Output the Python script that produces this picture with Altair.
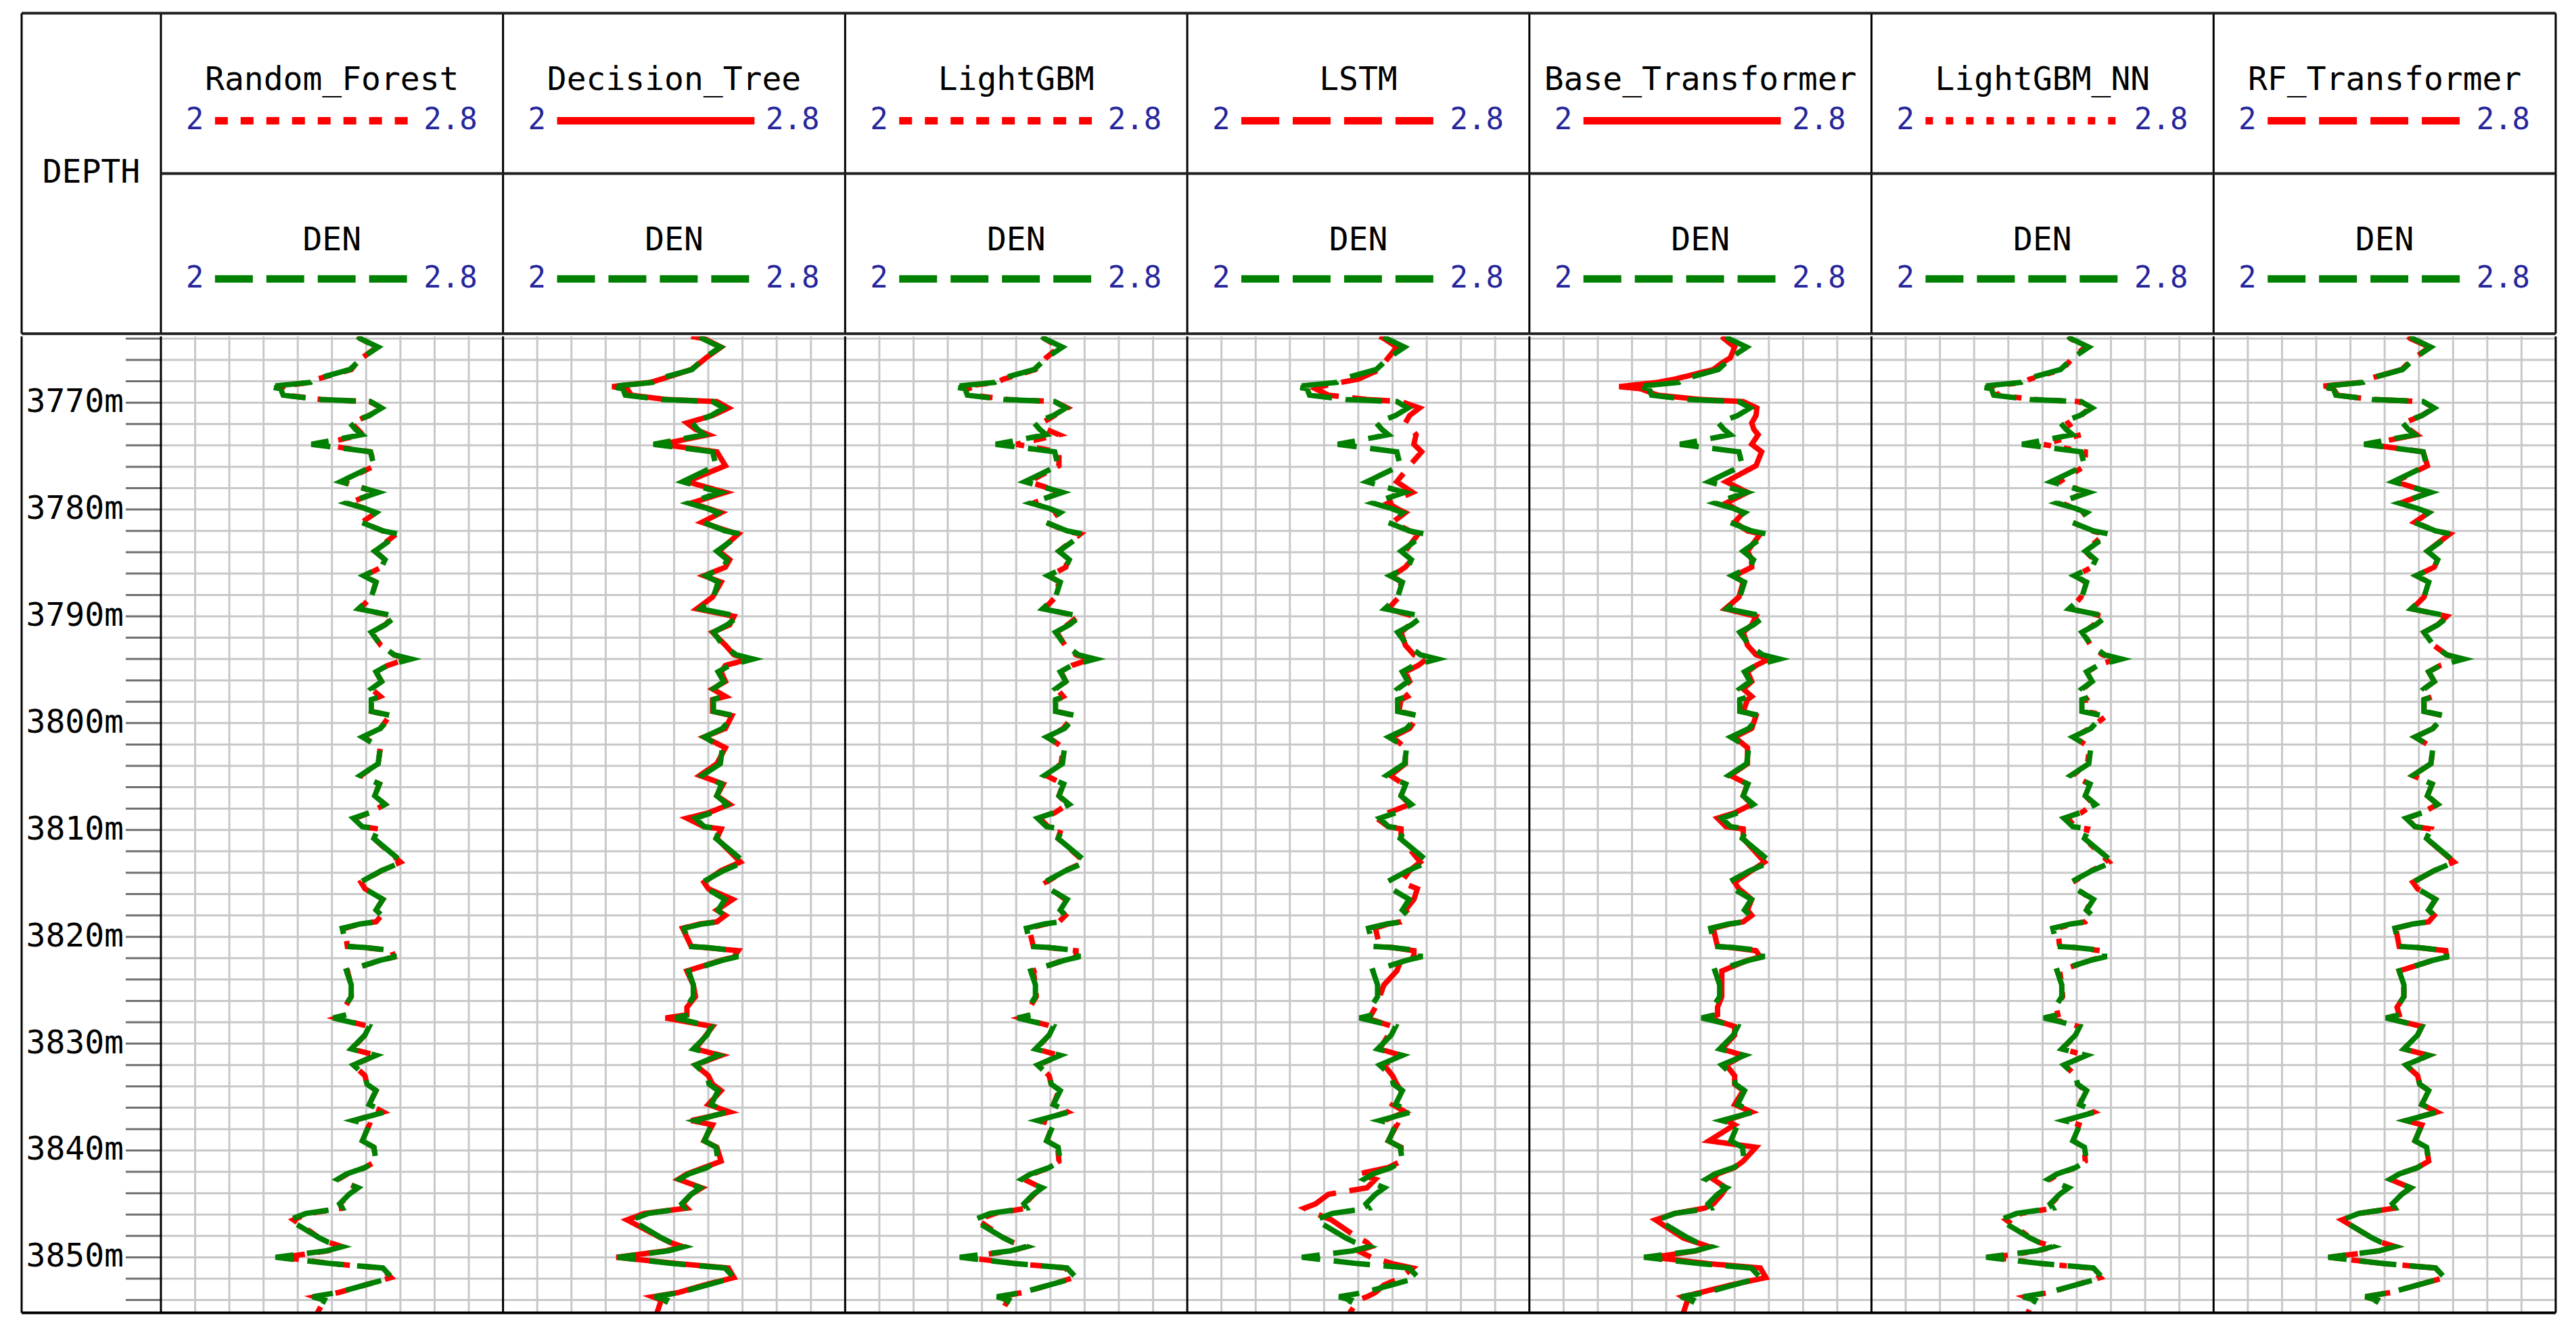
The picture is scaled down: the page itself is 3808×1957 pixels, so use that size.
import altair as alt
import pandas as pd

# ---------------- data ----------------
MODELS = ["Random_Forest", "Decision_Tree", "LightGBM", "LSTM",
          "Base_Transformer", "LightGBM_NN", "RF_Transformer"]
MODEL_DASH = [[19, 19], [1, 0], [19, 19], [56, 20], [1, 0], [11, 19], [56, 20]]
CURVE = "DEN"
SCALE_MIN = 2
SCALE_MAX = 2.8
SCALE_LABELS = ["2", "2.8"]
DEPTH_TITLE = "DEPTH"

DEPTH = [
    3763.8, 3764.0, 3764.8, 3765.8, 3766.3, 3766.9, 3767.8, 3768.1, 3768.5, 3768.7,
    3769.3, 3769.7, 3769.9, 3770.5, 3771.2, 3771.9, 3772.5, 3773.0, 3773.9, 3774.6,
    3775.9, 3777.4, 3778.4, 3779.4, 3779.9, 3780.3, 3781.2, 3782.0, 3782.3, 3783.9,
    3784.7, 3785.4, 3786.2, 3786.8, 3788.2, 3789.3, 3790.0, 3790.8, 3791.5, 3792.7,
    3793.6, 3794.0, 3794.6, 3795.2, 3796.1, 3796.8, 3797.5, 3797.8, 3798.9, 3799.3,
    3800.5, 3801.3, 3802.3, 3803.8, 3804.9, 3805.7, 3806.8, 3807.6, 3808.4, 3808.9,
    3809.7, 3809.9, 3810.8, 3813.0, 3813.8, 3814.9, 3815.5, 3816.5, 3817.5, 3818.0,
    3818.6, 3818.8, 3819.2, 3820.9, 3821.0, 3821.3, 3821.9, 3822.2, 3823.2, 3824.5,
    3825.6, 3826.6, 3827.3, 3827.6, 3828.4, 3829.2, 3830.5, 3831.1, 3832.0, 3833.0,
    3833.8, 3834.4, 3835.7, 3836.4, 3837.2, 3837.6, 3839.1, 3839.7, 3841.0, 3841.6,
    3842.2, 3842.7, 3843.5, 3844.1, 3845.0, 3845.4, 3845.9, 3846.5, 3848.2, 3848.6,
    3849.0, 3849.4, 3850.0, 3850.6, 3851.0, 3851.9, 3852.6, 3853.3, 3853.7, 3854.0,
    3855.2]

DEN = [
    2.46, 2.466, 2.508, 2.471, 2.458, 2.442, 2.36, 2.35, 2.25, 2.28,
    2.286, 2.371, 2.49, 2.516, 2.487, 2.442, 2.455, 2.47, 2.352, 2.49,
    2.498, 2.42, 2.508, 2.434, 2.477, 2.503, 2.469, 2.519, 2.556, 2.50,
    2.524, 2.516, 2.474, 2.503, 2.492, 2.462, 2.55, 2.524, 2.492, 2.514,
    2.545, 2.585, 2.53, 2.503, 2.516, 2.492, 2.513, 2.492, 2.492, 2.54,
    2.513, 2.471, 2.513, 2.508, 2.466, 2.511, 2.50, 2.524, 2.487, 2.45,
    2.471, 2.508, 2.498, 2.564, 2.516, 2.466, 2.477, 2.519, 2.503, 2.516,
    2.503, 2.466, 2.424, 2.434, 2.477, 2.545, 2.545, 2.513, 2.434, 2.445,
    2.445, 2.429, 2.434, 2.403, 2.487, 2.477, 2.445, 2.503, 2.45, 2.477,
    2.482, 2.503, 2.487, 2.524, 2.45, 2.487, 2.471, 2.498, 2.503, 2.477,
    2.434, 2.413, 2.461, 2.44, 2.418, 2.424, 2.339, 2.30, 2.371, 2.392,
    2.424, 2.387, 2.268, 2.40, 2.519, 2.54, 2.477, 2.413, 2.355, 2.382,
    2.366]

RANDOM_FOREST = [
    2.46, 2.466, 2.505, 2.471, 2.458, 2.445, 2.365, 2.35, 2.27, 2.285,
    2.29, 2.375, 2.488, 2.516, 2.487, 2.445, 2.46, 2.472, 2.37, 2.49,
    2.50, 2.425, 2.505, 2.44, 2.477, 2.503, 2.47, 2.519, 2.55, 2.50,
    2.524, 2.516, 2.476, 2.503, 2.492, 2.465, 2.545, 2.524, 2.492, 2.514,
    2.545, 2.575, 2.53, 2.503, 2.516, 2.492, 2.513, 2.495, 2.492, 2.535,
    2.513, 2.474, 2.513, 2.508, 2.468, 2.511, 2.50, 2.524, 2.487, 2.455,
    2.471, 2.508, 2.498, 2.56, 2.516, 2.468, 2.477, 2.519, 2.503, 2.516,
    2.503, 2.466, 2.43, 2.436, 2.477, 2.54, 2.545, 2.513, 2.436, 2.445,
    2.445, 2.43, 2.434, 2.41, 2.487, 2.477, 2.447, 2.503, 2.45, 2.477,
    2.482, 2.503, 2.487, 2.52, 2.452, 2.487, 2.471, 2.498, 2.503, 2.477,
    2.436, 2.415, 2.46, 2.44, 2.42, 2.424, 2.345, 2.31, 2.371, 2.392,
    2.424, 2.39, 2.285, 2.40, 2.515, 2.538, 2.477, 2.415, 2.36, 2.382,
    2.366]

DECISION_TREE = [
    2.44, 2.47, 2.51, 2.475, 2.46, 2.44, 2.37, 2.345, 2.255, 2.29,
    2.30, 2.38, 2.50, 2.527, 2.49, 2.43, 2.45, 2.48, 2.37, 2.50,
    2.52, 2.43, 2.52, 2.44, 2.48, 2.51, 2.465, 2.525, 2.55, 2.505,
    2.53, 2.52, 2.47, 2.51, 2.49, 2.453, 2.54, 2.53, 2.49, 2.52,
    2.54, 2.575, 2.52, 2.51, 2.52, 2.49, 2.52, 2.49, 2.49, 2.535,
    2.52, 2.47, 2.52, 2.50, 2.46, 2.515, 2.50, 2.53, 2.48, 2.43,
    2.47, 2.51, 2.50, 2.555, 2.51, 2.47, 2.48, 2.537, 2.50, 2.52,
    2.50, 2.46, 2.42, 2.44, 2.47, 2.55, 2.54, 2.51, 2.43, 2.445,
    2.45, 2.43, 2.43, 2.38, 2.49, 2.475, 2.45, 2.51, 2.45, 2.48,
    2.49, 2.51, 2.48, 2.53, 2.44, 2.49, 2.47, 2.50, 2.51, 2.47,
    2.43, 2.41, 2.465, 2.44, 2.42, 2.43, 2.33, 2.29, 2.37, 2.39,
    2.42, 2.38, 2.265, 2.41, 2.527, 2.54, 2.47, 2.41, 2.35, 2.37,
    2.36]

LIGHTGBM = [
    2.46, 2.466, 2.50, 2.47, 2.46, 2.445, 2.37, 2.355, 2.27, 2.29,
    2.295, 2.38, 2.49, 2.52, 2.49, 2.46, 2.47, 2.50, 2.40, 2.50,
    2.50, 2.43, 2.505, 2.44, 2.475, 2.50, 2.47, 2.515, 2.55, 2.50,
    2.52, 2.516, 2.478, 2.50, 2.492, 2.466, 2.545, 2.52, 2.495, 2.514,
    2.54, 2.575, 2.53, 2.505, 2.516, 2.495, 2.51, 2.495, 2.495, 2.535,
    2.51, 2.475, 2.51, 2.505, 2.47, 2.51, 2.50, 2.52, 2.49, 2.455,
    2.475, 2.505, 2.498, 2.56, 2.515, 2.47, 2.48, 2.515, 2.503, 2.515,
    2.50, 2.47, 2.43, 2.44, 2.475, 2.54, 2.54, 2.51, 2.44, 2.445,
    2.447, 2.432, 2.436, 2.41, 2.485, 2.477, 2.447, 2.50, 2.452, 2.477,
    2.482, 2.50, 2.487, 2.52, 2.455, 2.485, 2.472, 2.497, 2.50, 2.478,
    2.438, 2.418, 2.46, 2.442, 2.42, 2.425, 2.35, 2.31, 2.372, 2.392,
    2.424, 2.39, 2.28, 2.40, 2.515, 2.535, 2.477, 2.415, 2.36, 2.38,
    2.366]

LSTM = [
    2.45, 2.46, 2.49, 2.47, 2.46, 2.45, 2.40, 2.36, 2.31, 2.30,
    2.33, 2.42, 2.50, 2.543, 2.52, 2.51, 2.525, 2.535, 2.53, 2.548,
    2.52, 2.49, 2.527, 2.47, 2.49, 2.51, 2.48, 2.52, 2.54, 2.51,
    2.525, 2.51, 2.48, 2.50, 2.495, 2.47, 2.53, 2.52, 2.50, 2.51,
    2.53, 2.56, 2.54, 2.51, 2.52, 2.50, 2.515, 2.50, 2.495, 2.54,
    2.52, 2.48, 2.51, 2.51, 2.475, 2.505, 2.50, 2.52, 2.47, 2.443,
    2.47, 2.50, 2.50, 2.545, 2.52, 2.50, 2.538, 2.53, 2.51, 2.52,
    2.50, 2.47, 2.44, 2.45, 2.48, 2.53, 2.53, 2.50, 2.49, 2.46,
    2.45, 2.44, 2.43, 2.42, 2.48, 2.47, 2.45, 2.50, 2.46, 2.48,
    2.49, 2.50, 2.48, 2.51, 2.46, 2.49, 2.47, 2.50, 2.50, 2.47,
    2.40, 2.44, 2.42, 2.33, 2.30, 2.274, 2.30, 2.337, 2.40, 2.42,
    2.43, 2.40, 2.43, 2.48, 2.527, 2.50, 2.46, 2.44, 2.42, 2.40,
    2.38]

BASE_TRANSFORMER = [
    2.45, 2.455, 2.48, 2.47, 2.45, 2.43, 2.34, 2.30, 2.21, 2.26,
    2.30, 2.40, 2.50, 2.532, 2.53, 2.52, 2.525, 2.535, 2.52, 2.543,
    2.53, 2.46, 2.51, 2.46, 2.48, 2.50, 2.48, 2.51, 2.54, 2.51,
    2.52, 2.52, 2.48, 2.50, 2.49, 2.458, 2.53, 2.52, 2.50, 2.51,
    2.53, 2.56, 2.53, 2.51, 2.52, 2.50, 2.52, 2.51, 2.50, 2.53,
    2.52, 2.48, 2.51, 2.51, 2.47, 2.51, 2.50, 2.52, 2.48, 2.44,
    2.46, 2.50, 2.50, 2.55, 2.52, 2.48, 2.49, 2.52, 2.51, 2.52,
    2.50, 2.47, 2.43, 2.44, 2.47, 2.53, 2.54, 2.51, 2.45, 2.45,
    2.45, 2.44, 2.44, 2.42, 2.48, 2.48, 2.45, 2.50, 2.46, 2.48,
    2.48, 2.50, 2.48, 2.52, 2.46, 2.48, 2.42, 2.53, 2.50, 2.48,
    2.44, 2.43, 2.46, 2.45, 2.43, 2.41, 2.34, 2.295, 2.36, 2.39,
    2.42, 2.39, 2.29, 2.42, 2.54, 2.553, 2.47, 2.40, 2.358, 2.37,
    2.36]

LIGHTGBM_NN = [
    2.46, 2.465, 2.50, 2.47, 2.46, 2.445, 2.37, 2.355, 2.27, 2.29,
    2.295, 2.38, 2.485, 2.51, 2.49, 2.46, 2.47, 2.49, 2.40, 2.50,
    2.50, 2.44, 2.50, 2.445, 2.475, 2.50, 2.47, 2.515, 2.545, 2.50,
    2.52, 2.515, 2.478, 2.50, 2.49, 2.466, 2.54, 2.52, 2.495, 2.512,
    2.54, 2.57, 2.53, 2.505, 2.515, 2.495, 2.51, 2.50, 2.50, 2.55,
    2.51, 2.475, 2.51, 2.505, 2.47, 2.51, 2.50, 2.52, 2.49, 2.46,
    2.475, 2.505, 2.498, 2.555, 2.515, 2.47, 2.48, 2.515, 2.503, 2.515,
    2.50, 2.47, 2.435, 2.44, 2.475, 2.535, 2.54, 2.51, 2.44, 2.445,
    2.447, 2.432, 2.436, 2.415, 2.485, 2.477, 2.447, 2.50, 2.452, 2.477,
    2.482, 2.50, 2.487, 2.52, 2.455, 2.485, 2.472, 2.497, 2.50, 2.478,
    2.438, 2.418, 2.46, 2.442, 2.42, 2.425, 2.35, 2.315, 2.372, 2.392,
    2.424, 2.39, 2.285, 2.40, 2.51, 2.535, 2.477, 2.415, 2.36, 2.38,
    2.366]

RF_TRANSFORMER = [
    2.455, 2.46, 2.505, 2.47, 2.455, 2.44, 2.36, 2.345, 2.245, 2.28,
    2.29, 2.37, 2.49, 2.515, 2.487, 2.445, 2.458, 2.475, 2.36, 2.49,
    2.50, 2.425, 2.505, 2.437, 2.477, 2.503, 2.47, 2.52, 2.552, 2.50,
    2.524, 2.516, 2.474, 2.503, 2.492, 2.464, 2.545, 2.524, 2.492, 2.514,
    2.545, 2.58, 2.53, 2.503, 2.516, 2.492, 2.513, 2.492, 2.492, 2.537,
    2.513, 2.471, 2.513, 2.508, 2.466, 2.511, 2.50, 2.524, 2.487, 2.452,
    2.471, 2.508, 2.498, 2.562, 2.516, 2.466, 2.477, 2.519, 2.503, 2.516,
    2.503, 2.466, 2.426, 2.434, 2.477, 2.543, 2.545, 2.513, 2.434, 2.445,
    2.445, 2.429, 2.434, 2.405, 2.487, 2.477, 2.445, 2.503, 2.45, 2.477,
    2.482, 2.503, 2.487, 2.522, 2.45, 2.487, 2.471, 2.498, 2.503, 2.477,
    2.434, 2.413, 2.461, 2.44, 2.418, 2.424, 2.34, 2.30, 2.371, 2.392,
    2.424, 2.387, 2.27, 2.40, 2.519, 2.54, 2.477, 2.413, 2.355, 2.382,
    2.366]

PREDICTIONS = [RANDOM_FOREST, DECISION_TREE, LIGHTGBM, LSTM,
               BASE_TRANSFORMER, LIGHTGBM_NN, RF_TRANSFORMER]

D_TOP, D_BOT = 3763.8, 3855.2
GRID_DEPTHS = list(range(3764, 3856, 2))
LABEL_DEPTHS = list(range(3770, 3851, 10))

for p in PREDICTIONS:
    assert len(p) == len(DEPTH), len(p)
assert len(DEN) == len(DEPTH)

# ---------------- layout ----------------
FONT = "DejaVu Sans Mono"
BLUE = "#26269c"
RED = "#ff0000"
GREEN = "#008000"
GRID = "#c8c8c8"

N = len(MODELS)
TRACK_W = 506
DEPTH_W = 206
W = DEPTH_W + N * TRACK_W
XL = -DEPTH_W / TRACK_W
HEAD_H = 474
BODY_H = 1444
SPAN = SCALE_MAX - SCALE_MIN

xs = alt.Scale(domain=[XL, N], nice=False, zero=False)
ys = alt.Scale(domain=[D_TOP, D_BOT], reverse=True, nice=False, zero=False)
hy = alt.Scale(domain=[0, 2], reverse=True, nice=False, zero=False)


def X(f):
    return alt.X(f, scale=xs, axis=None)


# ---------- body ----------
red_rows = []
for t, (m, vals) in enumerate(zip(MODELS, PREDICTIONS)):
    for d, v in zip(DEPTH, vals):
        red_rows.append({"model": m, "track": t, "depth": d, "value": v})
red_df = pd.DataFrame(red_rows)

den_rows = []
for t in range(N):
    for d, v in zip(DEPTH, DEN):
        den_rows.append({"track": t, "depth": d, "value": v})
den_df = pd.DataFrame(den_rows)

calc = f"datum.track + (datum.value - {SCALE_MIN}) / {SPAN}"

vgrid_df = pd.DataFrame({"x": [t + k / 10 for t in range(N) for k in range(1, 10)]})
vgrid = alt.Chart(vgrid_df).mark_rule(color=GRID, strokeWidth=3).encode(x=X("x:Q"))

hgrid_df = pd.DataFrame({"d": GRID_DEPTHS, "x0": 0.0, "x1": float(N)})
hgrid = alt.Chart(hgrid_df).mark_rule(color=GRID, strokeWidth=3).encode(
    y=alt.Y("d:Q", scale=ys, axis=None), x=X("x0:Q"), x2="x1:Q")

tick_df = pd.DataFrame({"d": GRID_DEPTHS, "x0": -52 / TRACK_W, "x1": 0.0})
ticks = alt.Chart(tick_df).mark_rule(color="#707070", strokeWidth=3).encode(
    y=alt.Y("d:Q", scale=ys, axis=None), x=X("x0:Q"), x2="x1:Q")

lab_df = pd.DataFrame({"d": LABEL_DEPTHS, "x": -55 / TRACK_W,
                       "label": [f"{d}m" for d in LABEL_DEPTHS]})
labels = alt.Chart(lab_df).mark_text(
    align="right", baseline="middle", font=FONT, fontSize=48, color="black"
).encode(y=alt.Y("d:Q", scale=ys, axis=None), x=X("x:Q"), text="label:N")

red = alt.Chart(red_df).transform_calculate(xpos=calc).mark_line(
    color=RED, strokeWidth=8, clip=True
).encode(
    x=X("xpos:Q"),
    y=alt.Y("depth:Q", scale=ys, axis=None),
    order=alt.Order("depth:Q"),
    detail="model:N",
    strokeDash=alt.StrokeDash("model:N", scale=alt.Scale(domain=MODELS, range=MODEL_DASH),
                              legend=None),
)

green = alt.Chart(den_df).transform_calculate(xpos=calc).mark_line(
    color=GREEN, strokeWidth=8, strokeDash=[54, 20], clip=True
).encode(
    x=X("xpos:Q"),
    y=alt.Y("depth:Q", scale=ys, axis=None),
    order=alt.Order("depth:Q"),
    detail="track:N",
)

vb_df = pd.DataFrame({"x": [XL] + [float(i) for i in range(N + 1)]})
vborders = alt.Chart(vb_df).mark_rule(color="black", strokeWidth=3).encode(x=X("x:Q"))
bb_df = pd.DataFrame({"d": [D_BOT], "x0": [XL], "x1": [float(N)]})
bottom = alt.Chart(bb_df).mark_rule(color="black", strokeWidth=4).encode(
    y=alt.Y("d:Q", scale=ys, axis=None), x=X("x0:Q"), x2="x1:Q")

body = alt.layer(vgrid, hgrid, ticks, labels, red, green, vborders, bottom).properties(
    width=W, height=BODY_H)

# ---------- header ----------
hd = pd.DataFrame({"model": MODELS, "track": list(range(N))})
hd["xc"] = hd["track"] + 0.5
hd["l0"] = hd["track"] + 0.158
hd["l1"] = hd["track"] + 0.735
hd["n0"] = hd["track"] + 0.099
hd["n1"] = hd["track"] + 0.768
hd["curve"] = CURVE
hd["lo"] = SCALE_LABELS[0]
hd["hi"] = SCALE_LABELS[1]
hd["r1"] = 0.422
hd["r1l"] = 0.671
hd["r2"] = 1.422
hd["r2l"] = 1.658


def HY(f):
    return alt.Y(f, scale=hy, axis=None)


base = alt.Chart(hd)
titles = base.mark_text(font=FONT, fontSize=48, color="black", baseline="middle").encode(
    x=X("xc:Q"), y=HY("r1:Q"), text="model:N")
curves = base.mark_text(font=FONT, fontSize=48, color="black", baseline="middle").encode(
    x=X("xc:Q"), y=HY("r2:Q"), text="curve:N")
red_leg = base.mark_rule(color=RED, strokeWidth=11).encode(
    x=X("l0:Q"), x2="l1:Q", y=HY("r1l:Q"),
    strokeDash=alt.StrokeDash("model:N", scale=alt.Scale(domain=MODELS, range=MODEL_DASH),
                              legend=None))
green_leg = base.mark_rule(color=GREEN, strokeWidth=11, strokeDash=[56, 20]).encode(
    x=X("l0:Q"), x2="l1:Q", y=HY("r2l:Q"))
nums = []
for ycol in ["r1l", "r2l"]:
    nums.append(base.mark_text(font=FONT, fontSize=44, color=BLUE, baseline="middle",
                               align="center").encode(x=X("n0:Q"), y=HY(f"{ycol}:Q"), text="lo:N"))
    nums.append(base.mark_text(font=FONT, fontSize=44, color=BLUE, baseline="middle",
                               align="left").encode(x=X("n1:Q"), y=HY(f"{ycol}:Q"), text="hi:N"))

dt_df = pd.DataFrame({"x": [XL / 2], "y": [1.0], "t": [DEPTH_TITLE]})
depth_title = alt.Chart(dt_df).mark_text(font=FONT, fontSize=48, color="black",
                                         baseline="middle").encode(
    x=X("x:Q"), y=HY("y:Q"), text="t:N")

hvb = alt.Chart(vb_df).mark_rule(color="black", strokeWidth=3).encode(x=X("x:Q"))
hl_df = pd.DataFrame({"y": [0.0, 1.0, 2.0], "x0": [XL, 0.0, XL], "x1": [float(N)] * 3})
hlines = alt.Chart(hl_df).mark_rule(color="#202020", strokeWidth=4).encode(
    y=HY("y:Q"), x=X("x0:Q"), x2="x1:Q")

header = alt.layer(titles, curves, red_leg, green_leg, *nums, depth_title, hvb, hlines).properties(
    width=W, height=HEAD_H)

chart = alt.vconcat(header, body, spacing=0).properties(
    padding={"left": 22, "top": 9, "right": 20, "bottom": 10},
    background="white",
).configure_view(stroke=None)

chart.save("out.html", embed_options={"renderer": "svg", "actions": False})
